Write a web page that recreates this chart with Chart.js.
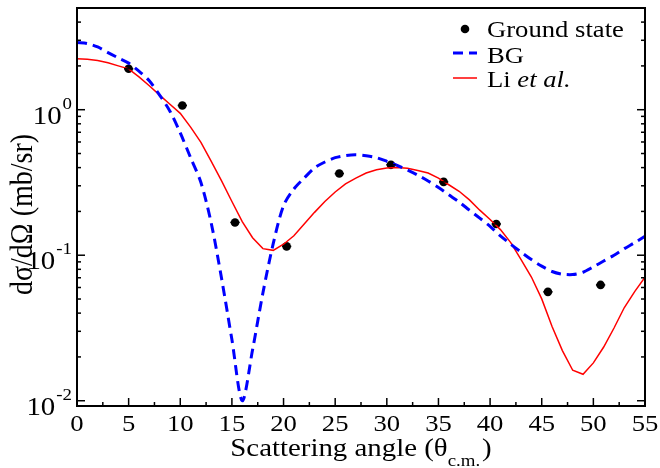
<!DOCTYPE html>
<html>
<head>
<meta charset="utf-8">
<title>Differential cross section</title>
<script src="https://cdn.jsdelivr.net/npm/chart.js@4.4.1/dist/chart.umd.min.js"></script>
<style>
  body { margin: 0; background: #ffffff; }
  canvas { display: block; }
</style>
</head>
<body>
<canvas id="xsecGraph" width="660" height="468"></canvas>
<script>
// ------------- //
//  DATA ARRAYS  //
// ------------- //

// Angles (degrees) that both model curves are sampled at
var angles = [0, 1, 2, 3, 4, 5, 6, 7, 8, 9, 10, 11, 12, 13, 14, 15, 16, 17, 18, 19,
              20, 21, 22, 23, 24, 25, 26, 27, 28, 29, 30, 31, 32, 33, 34, 35, 36, 37, 38, 39,
              40, 41, 42, 43, 44, 45, 46, 47, 48, 49, 50, 51, 52, 53, 54, 55];

// BG potential (mb/sr)
var bgValues = [2.90, 2.85, 2.70, 2.47, 2.27, 2.09, 1.84, 1.58, 1.26, 0.977,
                0.692, 0.468, 0.316, 0.166, 0.0692, 0.0263, 0.0100, 0.0224, 0.0550, 0.120,
                0.219, 0.285, 0.339, 0.398, 0.437, 0.468, 0.484, 0.490, 0.482, 0.468,
                0.442, 0.414, 0.385, 0.355, 0.324, 0.292, 0.260, 0.232, 0.204, 0.180,
                0.158, 0.136, 0.119, 0.105, 0.0933, 0.0841, 0.0773, 0.0741, 0.0736, 0.0764,
                0.0832, 0.0912, 0.100, 0.111, 0.122, 0.135];

// Li et al. potential (mb/sr)
var liValues = [2.24, 2.22, 2.18, 2.10, 2.00, 1.91, 1.68, 1.46, 1.26, 1.09,
                0.944, 0.759, 0.596, 0.442, 0.324, 0.234, 0.170, 0.132, 0.111, 0.108,
                0.119, 0.136, 0.164, 0.197, 0.234, 0.272, 0.309, 0.339, 0.367, 0.387,
                0.398, 0.401, 0.396, 0.382, 0.367, 0.339, 0.305, 0.275, 0.240, 0.204,
                0.176, 0.150, 0.122, 0.0933, 0.0708, 0.0501, 0.0324, 0.0221, 0.0162, 0.0152,
                0.0182, 0.0234, 0.0316, 0.0437, 0.0562, 0.0705];

// Measured ground state cross sections
var groundAngles = [5.0, 10.2, 15.3, 20.3, 25.4, 30.4, 35.5, 40.6, 45.6, 50.7];
var groundValues = [1.91, 1.07, 0.168, 0.115, 0.364, 0.418, 0.319, 0.164, 0.056, 0.0625];
var groundErrors = [0.45, 0.45, 0.45, 0.45, 0.45, 0.45, 0.45, 0.45, 0.45, 0.45];

// Axis ticks
var xTickValues = [0, 5, 10, 15, 20, 25, 30, 35, 40, 45, 50, 55];
var yTickValues = [0.01, 0.1, 1];
var yTickExponents = ["-2", "-1", "0"];


// ------------------ //
//  HELPER FUNCTIONS  //
// ------------------ //

// Zips two arrays into {x, y} points for the scatter chart
function toPoints(xs, ys) {
  var pts = [];
  for (var i = 0; i < xs.length; i++) {
    pts.push({ x: xs[i], y: ys[i] });
  }
  return pts;
}

// Draws a short straight line (ticks, legend samples)
function tick(ctx, x1, y1, x2, y2) {
  ctx.beginPath();
  ctx.moveTo(x1, y1);
  ctx.lineTo(x2, y2);
  ctx.stroke();
}

var SERIF = "'Liberation Serif', 'Times New Roman', serif";
// the lettering is a touch wider than plain Times
var STRETCH = 1.11;

// Writes text stretched horizontally by STRETCH
function stretchText(ctx, text, x, y, align, font) {
  ctx.save();
  ctx.font = font;
  ctx.textAlign = align;
  ctx.textBaseline = "alphabetic";
  ctx.translate(x, y);
  ctx.scale(STRETCH, 1);
  ctx.fillText(text, 0, 0);
  ctx.restore();
}

// Width of a string once stretched
function stretchWidth(ctx, text, font) {
  ctx.save();
  ctx.font = font;
  var w = ctx.measureText(text).width * STRETCH;
  ctx.restore();
  return w;
}


// --------- //
//  PLUGINS  //
// --------- //

// Horizontal error bars on the measured points
var errorBarPlugin = {
  id: 'errorBars',
  afterDatasetsDraw: function (chart) {
    var ctx = chart.ctx;
    var xs = chart.scales.x, ys = chart.scales.y;
    ctx.save();
    ctx.strokeStyle = "black";
    ctx.lineWidth = 1.5;
    for (var i = 0; i < groundAngles.length; i++) {
      var py = ys.getPixelForValue(groundValues[i]);
      tick(ctx, xs.getPixelForValue(groundAngles[i] - groundErrors[i]), py,
                xs.getPixelForValue(groundAngles[i] + groundErrors[i]), py);
    }
    ctx.restore();
  }
};

// Frame, inward ticks, labels, titles and the legend
var framePlugin = {
  id: 'frame',
  afterDraw: function (chart) {
    var ctx = chart.ctx;
    var area = chart.chartArea;
    var xs = chart.scales.x, ys = chart.scales.y;
    ctx.save();

    // box round the plot
    ctx.strokeStyle = "black";
    ctx.lineWidth = 2;
    ctx.strokeRect(area.left, area.top, area.right - area.left, area.bottom - area.top);

    // x ticks every 2.5 degrees, bottom only
    ctx.lineWidth = 1.5;
    for (var v = 0; v <= 55; v += 2.5) {
      var px = xs.getPixelForValue(v);
      var len = (v % 5 === 0) ? 8 : 4;
      tick(ctx, px, area.bottom, px, area.bottom - len);
    }

    // y ticks on both sides, log decades with minors
    for (var d = -3; d <= 1; d++) {
      for (var m = 1; m <= 9; m++) {
        var val = m * Math.pow(10, d);
        if (val < ys.min || val > ys.max) continue;
        var py = ys.getPixelForValue(val);
        var ylen = (m === 1) ? 8 : 4;
        tick(ctx, area.left, py, area.left + ylen, py);
        tick(ctx, area.right, py, area.right - ylen, py);
      }
    }

    ctx.fillStyle = "black";

    // x tick labels
    for (var i = 0; i < xTickValues.length; i++) {
      stretchText(ctx, String(xTickValues[i]), xs.getPixelForValue(xTickValues[i]),
                  area.bottom + 25, "center", "24px " + SERIF);
    }

    // y tick labels as 10 with a raised exponent
    var expFont = "17px " + SERIF;
    var baseFont = "26px " + SERIF;
    for (var j = 0; j < yTickValues.length; j++) {
      var ty = ys.getPixelForValue(yTickValues[j]);
      var right = area.left - 5;
      var expW = stretchWidth(ctx, yTickExponents[j], expFont);
      stretchText(ctx, yTickExponents[j], right, ty - 1, "right", expFont);
      stretchText(ctx, "10", right - expW - 1, ty + 14, "right", baseFont);
    }

    // x axis title with subscript
    var mainText = "Scattering angle (\u03b8";
    var subText = "c.m.";
    var mainFont = "26px " + SERIF;
    var subFont = "17px " + SERIF;
    var wMain = stretchWidth(ctx, mainText, mainFont);
    var wSub = stretchWidth(ctx, subText, subFont);
    var wClose = stretchWidth(ctx, ")", mainFont);
    var startX = (area.left + area.right) / 2 - (wMain + wSub + wClose + 2) / 2;
    var baseY = area.bottom + 50;
    stretchText(ctx, mainText, startX, baseY, "left", mainFont);
    stretchText(ctx, subText, startX + wMain, baseY + 10, "left", subFont);
    stretchText(ctx, ")", startX + wMain + wSub + 2, baseY, "left", mainFont);

    // y axis title, written bottom to top
    ctx.save();
    ctx.translate(32, 295);
    ctx.scale(STRETCH, 1);
    ctx.rotate(-Math.PI / 2);
    ctx.textAlign = "left";
    ctx.font = "28px " + SERIF;
    ctx.fillText("d\u03c3/d\u03a9 (mb/sr)", 0, 0);
    ctx.restore();

    // legend in the upper right corner
    var lx = area.right - 192;
    var tx = lx + 34;
    var legFont = "24px " + SERIF;

    ctx.beginPath();
    ctx.arc(lx + 12, area.top + 21, 4.3, 0, Math.PI * 2);
    ctx.fill();
    stretchText(ctx, "Ground state", tx, area.top + 29, "left", legFont);

    ctx.strokeStyle = "#0000ff";
    ctx.lineWidth = 3;
    ctx.setLineDash([10, 6]);
    tick(ctx, lx, area.top + 45, lx + 24, area.top + 45);
    ctx.setLineDash([]);
    stretchText(ctx, "BG", tx, area.top + 55, "left", legFont);

    ctx.strokeStyle = "#ff0000";
    ctx.lineWidth = 1.5;
    tick(ctx, lx, area.top + 70, lx + 24, area.top + 70);
    stretchText(ctx, "Li ", tx, area.top + 79, "left", legFont);
    var liW = stretchWidth(ctx, "Li ", legFont);
    stretchText(ctx, "et al.", tx + liW, area.top + 79, "left", "italic " + legFont);

    ctx.restore();
  }
};


// ----------- //
//  THE CHART  //
// ----------- //

var ctx = document.getElementById("xsecGraph");
new Chart(ctx, {
  type: 'scatter',
  data: {
    datasets: [
      {
        label: 'BG',
        data: toPoints(angles, bgValues),
        showLine: true,
        borderColor: "#0000ff",
        borderWidth: 3,
        borderDash: [10, 6],
        pointRadius: 0,
        tension: 0.3,
        fill: false
      },
      {
        label: 'Li et al.',
        data: toPoints(angles, liValues),
        showLine: true,
        borderColor: "#ff0000",
        borderWidth: 1.5,
        pointRadius: 0,
        tension: 0,
        fill: false
      },
      {
        label: 'Ground state',
        data: toPoints(groundAngles, groundValues),
        showLine: false,
        pointRadius: 4.3,
        pointBackgroundColor: "black",
        pointBorderColor: "black",
        pointBorderWidth: 0
      }
    ]
  },
  options: {
    responsive: false,
    animation: false,
    events: [],
    layout: {
      padding: { left: 77, top: 8, right: 15, bottom: 62 }
    },
    scales: {
      x: { type: 'linear', min: 0, max: 55, display: false },
      y: { type: 'logarithmic', min: 0.0092, max: 5, display: false }
    },
    plugins: {
      legend: { display: false },
      tooltip: { enabled: false }
    }
  },
  plugins: [errorBarPlugin, framePlugin]
});
</script>
</body>
</html>
